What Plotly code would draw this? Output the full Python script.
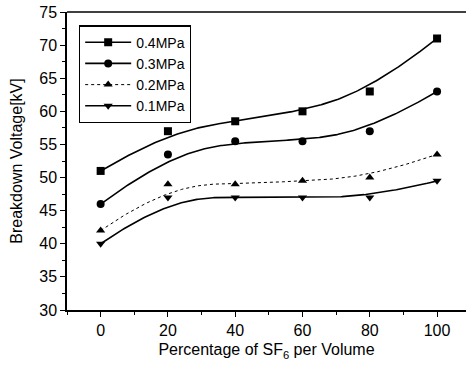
import numpy as np
import plotly.graph_objects as go

sf6_percent = [0, 20, 40, 60, 80, 100]
v_04 = [51.0, 57.0, 58.5, 60.0, 63.0, 71.0]
v_03 = [46.0, 53.5, 55.5, 55.5, 57.0, 63.0]
v_02 = [42.0, 49.0, 49.0, 49.5, 50.0, 53.5]
v_01 = [40.0, 47.0, 47.0, 47.0, 47.0, 49.5]

series = [
    ("0.4MPa", v_04, "square", "solid", 1.6),
    ("0.3MPa", v_03, "circle", "solid", 1.6),
    ("0.2MPa", v_02, "triangle-up", "dot", 1.0),
    ("0.1MPa", v_01, "triangle-down", "solid", 1.6),
]


def bspline_curve(cx, cy, degree=3, n=241):
    """Clamped B-spline using the data points as control points (Origin-style B-Spline line)."""
    m = len(cx)
    k = degree
    knots = np.concatenate([np.zeros(k + 1), np.arange(1, m - k), np.full(k + 1, m - k)]).astype(float)

    def basis(i, p, t):
        if p == 0:
            if knots[i] <= t < knots[i + 1]:
                return 1.0
            if t == knots[-1] and knots[i] < knots[i + 1] and knots[i + 1] == knots[-1]:
                return 1.0
            return 0.0
        val = 0.0
        d1 = knots[i + p] - knots[i]
        if d1 > 0:
            val += (t - knots[i]) / d1 * basis(i, p - 1, t)
        d2 = knots[i + p + 1] - knots[i + 1]
        if d2 > 0:
            val += (knots[i + p + 1] - t) / d2 * basis(i + 1, p - 1, t)
        return val

    ts = np.linspace(0, m - k, n)
    px, py = [], []
    for t in ts:
        w = np.array([basis(i, k, t) for i in range(m)])
        px.append(float(np.dot(w, cx)))
        py.append(float(np.dot(w, cy)))
    return px, py


fig = go.Figure()
for name, vals, sym, dash, lw in series:
    cxs, cys = bspline_curve(np.array(sf6_percent, float), np.array(vals, float))
    fig.add_trace(go.Scatter(
        x=cxs, y=cys, mode="lines", line=dict(color="black", width=lw, dash=dash),
        showlegend=False, hoverinfo="skip"))
    fig.add_trace(go.Scatter(
        x=sf6_percent, y=vals, mode="markers", name=name,
        marker=dict(symbol=sym, size=8, color="black"), showlegend=False))
    fig.add_trace(go.Scatter(
        x=[None], y=[None], mode="lines+markers", name=name,
        line=dict(color="black", width=lw, dash=dash),
        marker=dict(symbol=sym, size=8, color="black")))

font_family = "Liberation Sans, Arial, sans-serif"
fig.update_layout(
    width=466, height=369,
    margin=dict(l=67, r=0, t=12, b=59),
    paper_bgcolor="white", plot_bgcolor="white",
    font=dict(family=font_family, size=16, color="black"),
    legend=dict(x=0.03, y=0.955, xanchor="left", yanchor="top",
                bordercolor="black", borderwidth=1.2, bgcolor="white",
                font=dict(size=14), tracegroupgap=0, itemwidth=46),
    shapes=[dict(type="line", xref="paper", yref="paper", x0=0, x1=1, y0=1, y1=1,
                 line=dict(color="black", width=1.5))],
)
fig.update_xaxes(
    range=[-10, 108.6], tickvals=sf6_percent, ticks="outside", ticklen=5,
    tickwidth=1.2, tickcolor="black", tickfont=dict(size=16),
    minor=dict(dtick=10, tick0=0, ticks="outside", ticklen=3, tickcolor="black"),
    showline=True, linecolor="black", linewidth=1.5, mirror=False,
    showgrid=False, zeroline=False,
    title=dict(text="Percentage of SF<sub>6</sub> per Volume", font=dict(size=16), standoff=6),
)
fig.update_yaxes(
    range=[30, 75], dtick=5, tick0=30, ticks="outside", ticklen=5,
    tickwidth=1.2, tickcolor="black", tickfont=dict(size=16),
    minor=dict(dtick=2.5, tick0=30, ticks="outside", ticklen=3, tickcolor="black"),
    showline=True, linecolor="black", linewidth=1.5,
    showgrid=False, zeroline=False,
    title=dict(text="Breakdown Voltage[kV]", font=dict(size=16), standoff=13),
)
fig.write_html(
    "out.html",
    config={"displayModeBar": False},
    post_script=("document.documentElement.style.overflow='hidden';"
                 "document.body.style.margin='0';document.body.style.overflow='hidden';"),
)
